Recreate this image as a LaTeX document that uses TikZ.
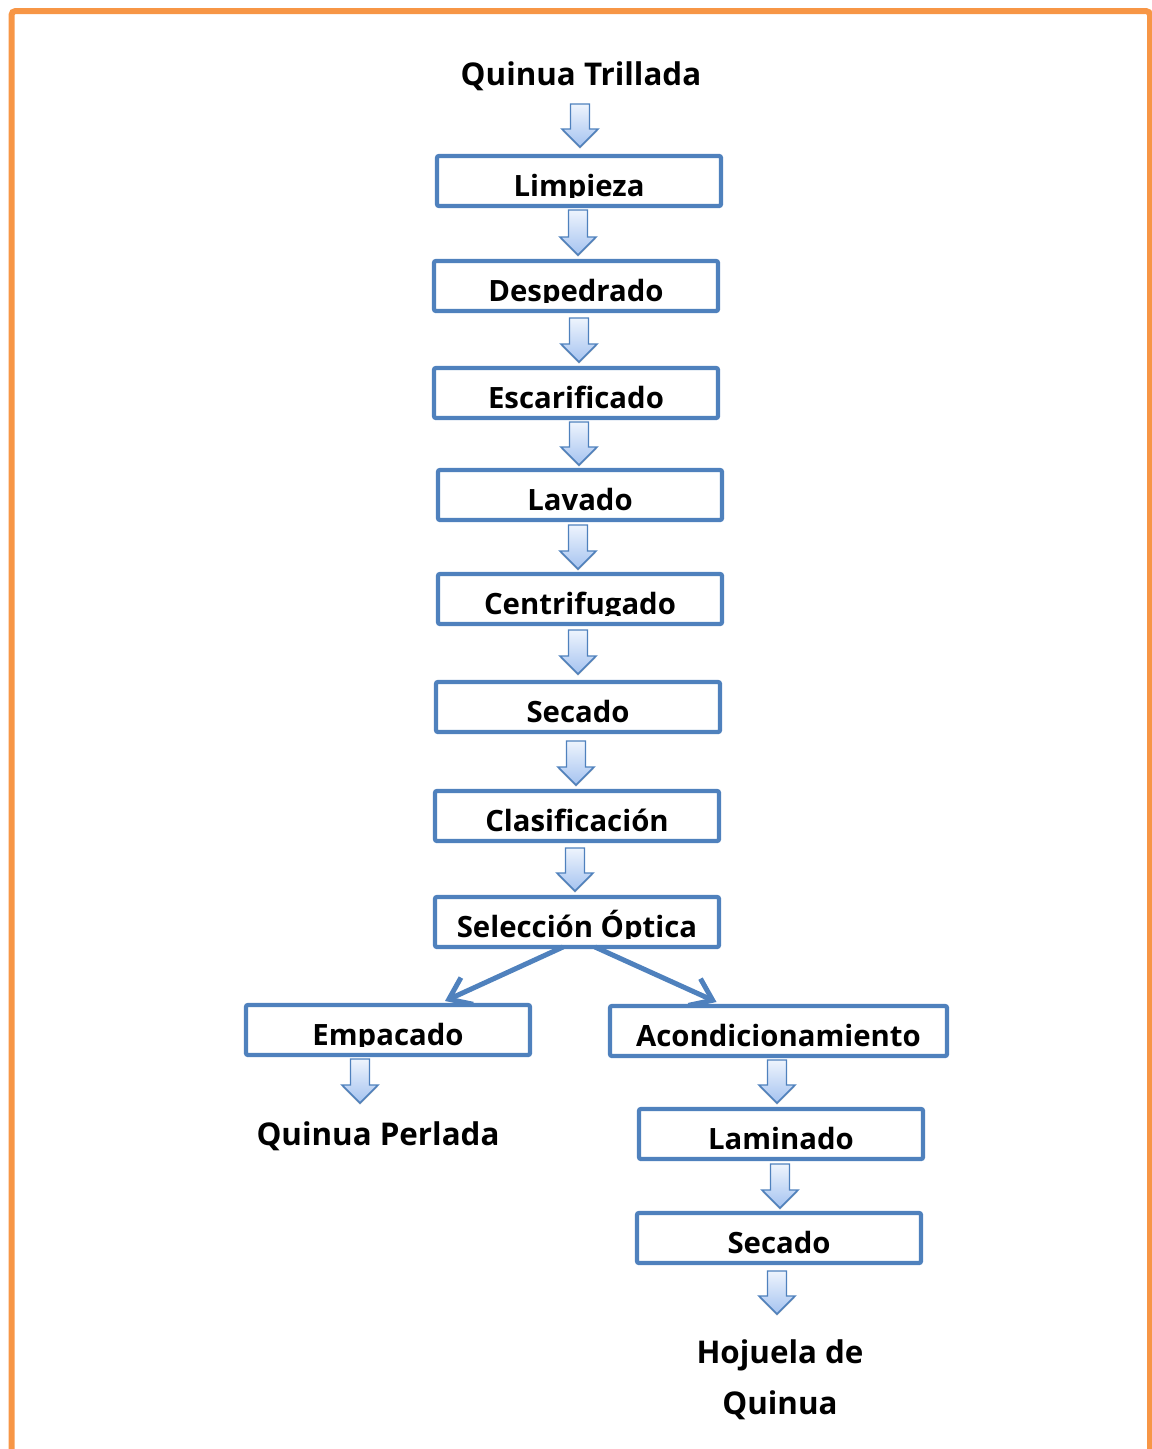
\documentclass[tikz,border=0pt]{standalone}
\usepackage{fontspec}
\setmainfont{Open Sans}
\usetikzlibrary{arrows.meta,calc,shadows}
\definecolor{boxblue}{HTML}{4F81BD}
\definecolor{frameorange}{HTML}{F79646}
\definecolor{arrowtop}{HTML}{EEF4FD}
\definecolor{arrowbot}{HTML}{A5C3F0}
\tikzset{
 pbox/.style={draw=boxblue, line width=3.2pt, rounded corners=1.5pt, minimum height=37.5pt, inner sep=0pt, outer sep=0pt, fill=white},
 plabel/.style={anchor=base, inner sep=0pt, font=\bfseries\fontsize{22}{26}\selectfont},
 ptitle/.style={anchor=base, inner sep=0pt, font=\bfseries\fontsize{23.5}{28}\selectfont},
 barrow/.style={draw=boxblue, line width=1.1pt, line join=miter, top color=arrowtop, bottom color=arrowbot,
   drop shadow={shadow xshift=0pt, shadow yshift=-1.2pt, opacity=0.25, fill=black}},
 diag/.style={draw=boxblue, line width=3.75pt, -{Straight Barb[length=15pt,width=22pt]}},
}
\newcommand\procbox[5]{%
 \node[pbox, minimum width=#4*0.75pt] (#1) at (#2,-#3) {};
 \begin{scope}
 \clip ($(#1.south west)+(0,8.5)$) rectangle (#1.north east);
 \node[plabel] (#1-t) at ($(#1.south)+(0,10)$) {#5};
 \end{scope}}
\newcommand\blockarr[3]{%
 \path[barrow] (#1-9.5,-#2) -- (#1+9.5,-#2) -- (#1+9.5,-#3+18) -- (#1+18,-#3+18) -- (#1,-#3) -- (#1-18,-#3+18) -- (#1-9.5,-#3+18) -- cycle;}
\begin{document}
\begin{tikzpicture}[x=0.75pt,y=0.75pt]
\clip (0,0) rectangle (1152,-1449);
\draw[frameorange, line width=4.5pt, rounded corners=3pt] (11.5,-1470) -- (11.5,-11) -- (1150,-11) -- (1150,-1470);
\node[ptitle] (title) at (581,-85) {Quinua Trillada};
\procbox{lim}{579}{181}{284}{Limpieza}
\procbox{desp}{576}{286}{284}{Despedrado}
\procbox{esc}{576}{393}{284}{Escarificado}
\procbox{lav}{580}{495}{284}{Lavado}
\procbox{cen}{580}{599}{284}{Centrifugado}
\procbox{sec}{578}{707}{284}{Secado}
\procbox{cla}{577}{816}{284}{Clasificación}
\procbox{sel}{577}{922}{284}{Selección Óptica}
\procbox{emp}{388}{1030}{284}{Empacado}
\procbox{aco}{778.5}{1031}{337}{Acondicionamiento}
\procbox{lam}{781}{1134}{284}{Laminado}
\procbox{sec2}{779}{1238}{284}{Secado}
\blockarr{580}{104}{147}
\blockarr{578}{210}{255}
\blockarr{579}{318}{362}
\blockarr{579}{422}{465}
\blockarr{578}{525}{569}
\blockarr{578}{630}{674}
\blockarr{576}{741}{785}
\blockarr{575}{848}{891}
\blockarr{360}{1059}{1103}
\blockarr{777}{1060}{1103}
\blockarr{780}{1164}{1208}
\blockarr{777}{1271}{1314}
\draw[diag] ($(sel.south)+(-14,0)$) -- ($(emp.north)+(57,4)$);
\draw[diag] ($(sel.south)+(18,0)$) -- ($(aco.north)+(-62,4)$);
\node[ptitle] (perl) at (378,-1145) {Quinua Perlada};
\node[ptitle] (hoj1) at (780,-1363) {Hojuela de};
\node[ptitle] (hoj2) at (780,-1414) {Quinua};
\end{tikzpicture}
\end{document}
